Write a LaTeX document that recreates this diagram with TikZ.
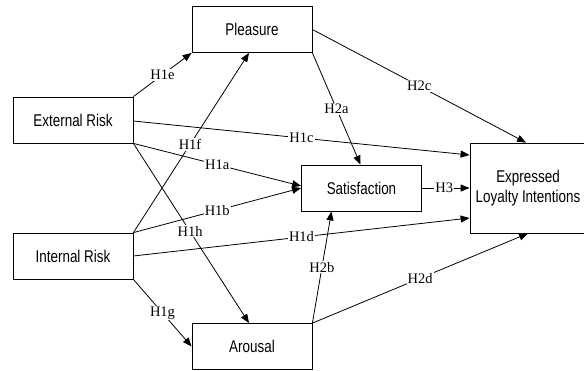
\documentclass[tikz,border=0pt]{standalone}
\usepackage{fontspec}
\setmainfont{Liberation Serif}
\newfontfamily\boxfont[FakeStretch=0.79]{Liberation Sans}
\usetikzlibrary{arrows.meta}
\begin{document}
\begin{tikzpicture}[x=1pt,y=-1pt,
  construct/.style={draw,line width=0.8pt,inner sep=0pt,minimum width=120pt,minimum height=46pt,
    align=center,font=\boxfont\fontsize{17}{20}\selectfont},
  path/.style={line width=0.8pt,-{Triangle[length=9pt,width=7pt]}},
  hyp/.style={fill=white,inner sep=1pt,font=\fontsize{14.5}{16}\selectfont}]
  \useasboundingbox (0,0) rectangle (584,370);

  % constructs
  \node[construct] (ple) at (252,29.5) {Pleasure};
  \node[construct] (ext) at (73,120) {External Risk};
  \node[construct] (int) at (73,256) {Internal Risk};
  \node[construct] (sat) at (361.5,188) {Satisfaction};
  \node[construct] (aro) at (252,346.5) {Arousal};
  \node[construct,minimum width=116pt,minimum height=90pt] (eli) at (528,188)
    {Expressed\\Loyalty Intentions};

  % risk paths
  \draw[path] (ext.north east) -- node[hyp] {H1e} (ple.south west);
  \draw[path] (int.north east) -- node[hyp,pos=0.49] {H1f} ([xshift=-3pt]ple.south);
  \draw[path] ([yshift=-1pt]ext.east) -- node[hyp] {H1c} ([yshift=33pt]eli.west);
  \draw[path] (ext.south east) -- node[hyp] {H1a} ([yshift=2pt]sat.west);
  \draw[path] (ext.south east) -- node[hyp,pos=0.49] {H1h} ([xshift=-3pt]aro.north);
  \draw[path] (int.north east) -- node[hyp] {H1b} (sat.west);
  \draw[path] (int.east) -- node[hyp] {H1d} ([yshift=-30pt]eli.west);
  \draw[path] (int.south east) -- node[hyp] {H1g} (aro.west);

  % emotion and satisfaction paths
  \draw[path] (ple.south east) -- node[hyp] {H2a} ([xshift=-1pt]sat.north);
  \draw[path] (ple.east) -- node[hyp] {H2c} ([xshift=-2pt]eli.north);
  \draw[path] (aro.north east) -- node[hyp] {H2b} ([xshift=-30pt]sat.south);
  \draw[path] (aro.north east) -- node[hyp] {H2d} (eli.south);
  \draw[path] (sat.east) -- node[hyp,pos=0.47] {H3} (eli.west);
\end{tikzpicture}
\end{document}
